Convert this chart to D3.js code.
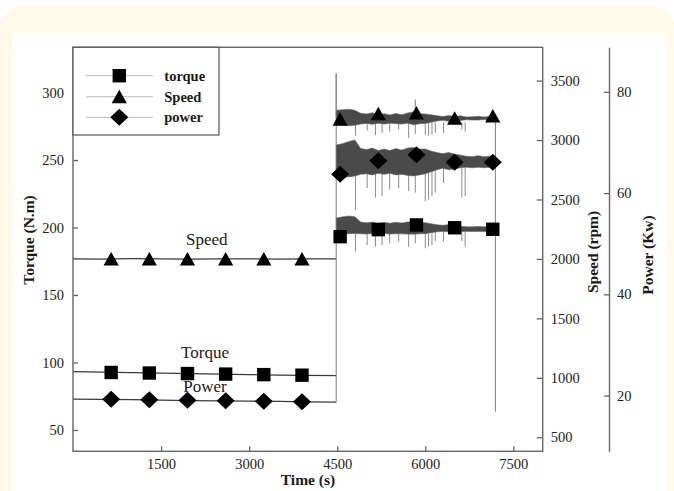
<!DOCTYPE html>
<html><head><meta charset="utf-8">
<script src="https://cdn.jsdelivr.net/npm/d3@7/dist/d3.min.js"></script>
<style>body{margin:0;background:#fff;}svg{display:block;}</style>
</head><body>
<svg id="c" width="674" height="491"></svg>
<script>
// ---------- data ----------
const xTicks = [1500, 3000, 4500, 6000, 7500];
const torqueTicks = [50, 100, 150, 200, 250, 300];
const speedTicks = [500, 1000, 1500, 2000, 2500, 3000, 3500];
const powerTicks = [20, 40, 60, 80];

// phase 1 (steady): time (s) and values
const p1Time   = [0, 500, 1000, 1500, 2000, 2500, 3000, 3500, 4000, 4483];
const torqueP1 = [93.3, 92.9, 92.5, 92.1, 91.8, 91.4, 91.0, 90.7, 90.4, 90.2];
const speedP1  = [2001, 1999, 2002, 2000, 1998, 2001, 2000, 1999, 2001, 2000];
const powerP1  = [19.3, 19.25, 19.2, 19.1, 19.0, 18.95, 18.9, 18.85, 18.75, 18.7];

// phase 2 (fluctuating): envelope of the noisy signal
const p2Time   = [4485, 4600, 4700, 4800, 4900, 5000, 5100, 5200, 5300, 5400, 5500, 5600, 5700, 5800, 5900, 6000, 6100, 6200, 6300, 6400, 6500, 6600, 6700, 6800, 6900, 7000, 7100, 7190];
const speedHi  = [3250, 3255, 3260, 3250, 3225, 3220, 3230, 3212, 3222, 3210, 3224, 3212, 3228, 3238, 3222, 3220, 3212, 3205, 3198, 3206, 3198, 3205, 3194, 3196, 3200, 3194, 3200, 3195];
const speedLo  = [3130, 3125, 3120, 3125, 3135, 3140, 3132, 3142, 3134, 3142, 3138, 3134, 3142, 3128, 3136, 3140, 3150, 3160, 3166, 3158, 3166, 3164, 3170, 3168, 3168, 3172, 3166, 3170];
const powerHi  = [69.5, 69.8, 70.2, 70.5, 68.8, 68.6, 68.9, 68.4, 68.7, 68.4, 68.8, 68.5, 68.9, 69.0, 68.7, 68.7, 68.3, 68.0, 67.8, 68.0, 67.7, 67.5, 67.3, 67.2, 67.4, 67.2, 67.3, 67.2];
const powerLo  = [63.2, 63.3, 63.2, 63.4, 63.7, 63.8, 63.6, 63.9, 63.7, 63.9, 63.6, 63.7, 63.5, 63.4, 63.6, 63.8, 64.2, 64.6, 64.9, 64.6, 64.8, 65.0, 65.1, 65.0, 65.1, 65.0, 65.1, 65.0];
const torqueHi = [207, 208, 208.5, 208, 204, 203.5, 204, 203.3, 203.8, 203.2, 203.9, 203.4, 204.1, 204.3, 203.7, 203.6, 202.8, 202, 201.7, 202.1, 201.6, 201, 200.6, 200.5, 200.8, 200.5, 200.7, 200.6];
const torqueLo = [195.5, 195.6, 195.4, 195.6, 195.3, 195.2, 195.5, 195.2, 195.5, 195.1, 195.4, 195.3, 195.1, 195.0, 195.3, 195.4, 196.2, 196.8, 197.1, 196.8, 197, 197, 197.1, 197, 197.1, 197, 197.1, 197];

// downward spikes in phase 2
const spikeTime   = [4811, 5010, 5151, 5264, 5394, 5547, 5717, 5830, 6000, 6057, 6114, 6170, 6311, 6623, 6679];
const speedSpike  = [3040, 3080, 3042, 3060, 3070, 3090, 3015, 3050, 3040, 3035, 3045, 3060, 3060, 3090, 3070];
const powerSpike  = [56.7, 61.0, 59.1, 59.4, 60.7, 61.0, 60.4, 60.1, 58.4, 58.7, 59.4, 60.1, 62.0, 59.1, 59.4];
const torqueSpike = [182.1, 187.0, 185.8, 187.0, 188.3, 189.5, 185.8, 188.3, 184.6, 185.8, 187.0, 190.0, 189.5, 190.0, 185.8];
// upward speed peaks
const peakTime  = [4483, 5830];
const peakSpeed = [3560, 3340];
// final drop when the run stops
const dropTime = 7195;
const dropTorque = 63.5;

// markers
const markTime   = [650, 1300, 1950, 2600, 3250, 3900, 4550, 5200, 5850, 6500, 7150];
const torqueMark = [92.6, 92.2, 91.8, 91.4, 91.0, 90.6, 193.2, 198.4, 201.9, 199.8, 198.7];
const speedMark  = [2000, 2000, 2000, 2000, 2000, 2000, 3174, 3221, 3227, 3183, 3202];
const powerMark  = [19.3, 19.2, 19.1, 19.0, 18.9, 18.8, 63.7, 66.4, 67.6, 66.1, 66.1];

const legendNames = ["torque", "Speed", "power"];
const annotations = [["Speed", 206.7, 244.5], ["Torque", 205, 358], ["Power", 205, 392]];

// ---------- layout ----------
const svg = d3.select("#c");
const L = 73, R = 542.7, T = 47.3, B = 451.3, PX = 609;
const FONT = "'Liberation Serif','Times New Roman',serif";

const x  = d3.scaleLinear().domain([0, 8000]).range([L, R]);
const yT = d3.scaleLinear().domain([34.2, 333.5]).range([B, T]);
const yS = d3.scaleLinear().domain([382, 3780]).range([B, T]);
const yP = d3.scaleLinear().domain([9, 88.8]).range([B, T]);

// background
svg.append("rect").attr("width", 674).attr("height", 491).attr("fill", "#fff");
svg.append("rect").attr("x", -2).attr("y", 5).attr("width", 678).attr("height", 540).attr("rx", 28).attr("fill", "#fffae7");
svg.append("rect").attr("x", 12).attr("y", 33).attr("width", 655).attr("height", 470).attr("fill", "#fff");

// annotations (under data)
svg.selectAll("text.ann").data(annotations).join("text")
  .attr("class", "ann").attr("x", d => d[1]).attr("y", d => d[2])
  .attr("text-anchor", "middle").attr("font-family", FONT).attr("font-size", 17)
  .attr("fill", "#1a1a1a").text(d => d[0]);

const g = svg.append("g");
const line = (ys) => d3.line().x(d => x(d[0])).y(d => ys(d[1]));

// phase 1 lines
[[torqueP1, yT], [speedP1, yS], [powerP1, yP]].forEach(([vals, ys]) => {
  g.append("path").datum(p1Time.map((t, i) => [t, vals[i]]))
    .attr("d", line(ys)).attr("fill", "none").attr("stroke", "#3a3a3a").attr("stroke-width", 1.3);
});

// jump lines at start of phase 2 and peaks
const gray = "#8a8a8a";
g.append("line").attr("x1", x(p1Time[p1Time.length - 1])).attr("x2", x(p1Time[p1Time.length - 1]))
  .attr("y1", yP(powerP1[powerP1.length - 1])).attr("y2", yS(peakSpeed[0]))
  .attr("stroke", gray).attr("stroke-width", 1.1);
peakTime.forEach((t, i) => {
  g.append("line").attr("x1", x(t)).attr("x2", x(t)).attr("y1", yS(3200)).attr("y2", yS(peakSpeed[i]))
    .attr("stroke", gray).attr("stroke-width", 1.1);
});

// spikes
spikeTime.forEach((t, i) => {
  [[speedSpike[i], yS, 3150], [powerSpike[i], yP, 65], [torqueSpike[i], yT, 197]].forEach(([v, ys, base]) => {
    g.append("line").attr("x1", x(t)).attr("x2", x(t)).attr("y1", ys(base)).attr("y2", ys(v))
      .attr("stroke", gray).attr("stroke-width", 1);
  });
});

// final drop
g.append("line").attr("x1", x(dropTime)).attr("x2", x(dropTime))
  .attr("y1", yS(speedLo[speedLo.length - 1])).attr("y2", yT(dropTorque))
  .attr("stroke", gray).attr("stroke-width", 1.1);

// bands
[[speedHi, speedLo, yS], [powerHi, powerLo, yP], [torqueHi, torqueLo, yT]].forEach(([hi, lo, ys]) => {
  g.append("path").datum(p2Time.map((t, i) => [t, hi[i], lo[i]]))
    .attr("d", d3.area().x(d => x(d[0])).y0(d => ys(d[2])).y1(d => ys(d[1])))
    .attr("fill", "#4a4a4a").attr("stroke", "#666").attr("stroke-width", 0.6);
});

// marker shapes
const sym = {
  square: `M-6.7,-6.7H6.7V6.7H-6.7Z`,
  triangle: `M0,-7L7.6,6.5H-7.6Z`,
  diamond: `M0,-8.5L9,0L0,8.5L-9,0Z`
};
const markG = svg.append("g");
markG.selectAll("path.sq").data(markTime.map((t, i) => [t, torqueMark[i]])).join("path")
  .attr("d", sym.square).attr("transform", d => `translate(${x(d[0])},${yT(d[1])})`).attr("fill", "#000");
markG.selectAll("path.tr").data(markTime.map((t, i) => [t, speedMark[i]])).join("path")
  .attr("d", sym.triangle).attr("transform", d => `translate(${x(d[0])},${yS(d[1])})`).attr("fill", "#000");
markG.selectAll("path.di").data(markTime.map((t, i) => [t, powerMark[i]])).join("path")
  .attr("d", sym.diamond).attr("transform", d => `translate(${x(d[0])},${yP(d[1])})`).attr("fill", "#000");

// frame
const axisColor = "#666";
svg.append("rect").attr("x", L).attr("y", T).attr("width", R - L).attr("height", B - T)
  .attr("fill", "none").attr("stroke", axisColor).attr("stroke-width", 1.4);

function styleAxis(sel, keepDomain) {
  sel.selectAll(".tick line").attr("stroke", axisColor).attr("stroke-width", 1.3);
  sel.selectAll(".tick text").attr("fill", "#222").attr("font-family", FONT).attr("font-size", 14.5);
  if (!keepDomain) sel.select(".domain").remove();
  else sel.select(".domain").attr("stroke", axisColor).attr("stroke-width", 1.4);
}
const fmt = d3.format("d");
const ax = svg.append("g").attr("transform", `translate(0,${B})`)
  .call(d3.axisBottom(x).tickValues(xTicks).tickFormat(fmt).tickSizeInner(-5).tickSizeOuter(0).tickPadding(7.5));
styleAxis(ax, false);
const ayT = svg.append("g").attr("transform", `translate(${L},0)`)
  .call(d3.axisLeft(yT).tickValues(torqueTicks).tickFormat(fmt).tickSizeInner(-5).tickSizeOuter(0).tickPadding(9));
styleAxis(ayT, false);
const ayS = svg.append("g").attr("transform", `translate(${R},0)`)
  .call(d3.axisRight(yS).tickValues(speedTicks).tickFormat(fmt).tickSizeInner(-6).tickSizeOuter(0).tickPadding(8));
styleAxis(ayS, false);
const ayP = svg.append("g").attr("transform", `translate(${PX},0)`)
  .call(d3.axisRight(yP).tickValues(powerTicks).tickFormat(fmt).tickSizeInner(-5).tickSizeOuter(0).tickPadding(8));
styleAxis(ayP, true);

// axis titles
const title = (txt, tx, ty, rot) => {
  svg.append("text").attr("transform", `translate(${tx},${ty}) rotate(${rot})`)
    .attr("text-anchor", "middle").attr("dominant-baseline", "central")
    .attr("font-family", FONT).attr("font-weight", "bold").attr("font-size", 15.5).attr("fill", "#1a1a1a").text(txt);
};
title("Time (s)", 308, 479, 0);
title("Torque (N.m)", 28, 240, -90);
title("Speed (rpm)", 592.5, 252, -90);
title("Power (Kw)", 647.5, 255, -90);

// legend
const lg = svg.append("g");
lg.append("rect").attr("x", L).attr("y", T).attr("width", 219 - L).attr("height", 135 - T)
  .attr("fill", "#fff").attr("stroke", "#555").attr("stroke-width", 1.2);
const legY = [75.7, 96.7, 117.3];
legendNames.forEach((n, i) => {
  lg.append("line").attr("x1", 86).attr("x2", 153).attr("y1", legY[i]).attr("y2", legY[i])
    .attr("stroke", "#bbb").attr("stroke-width", 1);
  lg.append("path").attr("d", [sym.square, sym.triangle, sym.diamond][i])
    .attr("transform", `translate(119.3,${legY[i]})`).attr("fill", "#000");
  lg.append("text").attr("x", 164.3).attr("y", legY[i]).attr("dominant-baseline", "central")
    .attr("font-family", FONT).attr("font-weight", "bold").attr("font-size", 14.5).attr("fill", "#1a1a1a").text(n);
});
</script>
</body></html>
